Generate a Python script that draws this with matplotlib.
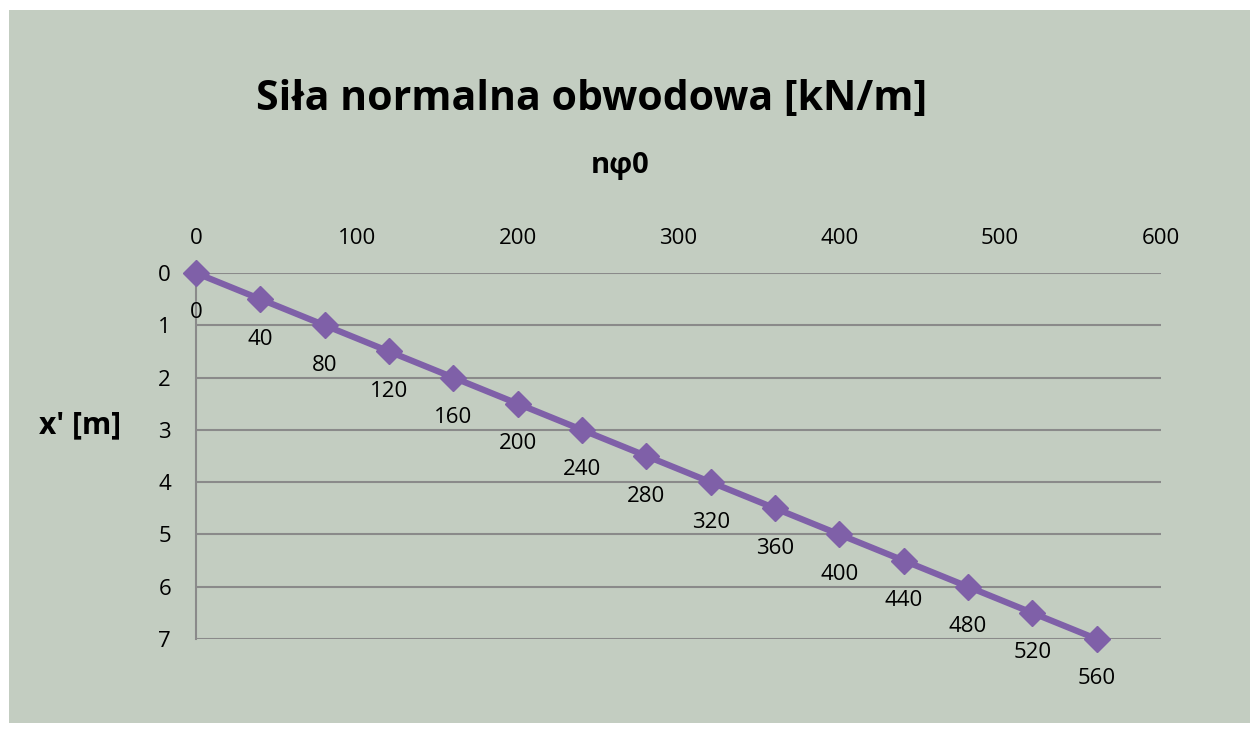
import matplotlib
matplotlib.use("Agg")
import matplotlib.pyplot as plt
from matplotlib.patches import Rectangle

n_phi0 = [0, 40, 80, 120, 160, 200, 240, 280, 320, 360, 400, 440, 480, 520, 560]
x_depth = [0, 0.5, 1, 1.5, 2, 2.5, 3, 3.5, 4, 4.5, 5, 5.5, 6, 6.5, 7]
x_ticks = [0, 100, 200, 300, 400, 500, 600]
y_ticks = [0, 1, 2, 3, 4, 5, 6, 7]

W, H = 1252, 733
fig = plt.figure(figsize=(W / 100, H / 100), dpi=100)
fig.patch.set_facecolor("white")
bg = "#c3cdc1"
fig.patches.append(Rectangle((9 / W, 1 - 723 / H), 1241 / W, 713 / H,
                             transform=fig.transFigure, facecolor=bg,
                             edgecolor="none", zorder=-10))

font = "Open Sans"
ax = fig.add_axes([196 / W, 1 - 639 / H, (1161 - 196) / W, (639 - 273) / H])
ax.set_facecolor("none")
ax.set_xlim(0, 600)
ax.set_ylim(7, 0)
ax.xaxis.tick_top()
ax.set_xticks(x_ticks)
ax.set_yticks(y_ticks)
ax.tick_params(length=0, labelsize=16)
ax.tick_params(axis="x", pad=17)
ax.tick_params(axis="y", pad=18)
for lab in ax.get_xticklabels() + ax.get_yticklabels():
    lab.set_fontfamily(font)
ax.grid(axis="y", color="#8a8a8a", linewidth=1.5)
ax.grid(axis="x", visible=False)
for s in ["top", "right", "bottom"]:
    ax.spines[s].set_visible(False)
ax.spines["left"].set_color("#8a8a8a")
ax.spines["left"].set_linewidth(1.5)

ax.plot(n_phi0, x_depth, color="#7f60a8", linewidth=4.5, marker="D",
        markersize=13, clip_on=False, zorder=5)
for xv, yv in zip(n_phi0, x_depth):
    ax.annotate(str(xv), (xv, yv), xytext=(0, -40), textcoords="offset pixels",
                ha="center", va="center", fontsize=16, fontfamily=font,
                annotation_clip=False)

fig.text(592 / W, 1 - 100 / H, "Siła normalna obwodowa [kN/m]", ha="center",
         va="center", fontsize=29.5, fontweight="bold", fontfamily=font)
fig.text(620 / W, 1 - 166 / H, "nφ0", ha="center", va="center", fontsize=21,
         fontweight="bold", fontfamily=font)
fig.text(80 / W, 1 - 425 / H, "x' [m]", ha="center", va="center", fontsize=21.5,
         fontweight="bold", fontfamily=font)

fig.savefig("out.png", dpi=100)
